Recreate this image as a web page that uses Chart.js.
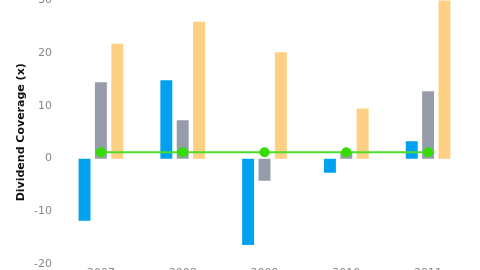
<!DOCTYPE html>
<html>
<head>
<meta charset="utf-8">
<script src="https://cdn.jsdelivr.net/npm/chart.js@4/dist/chart.umd.min.js"></script>
<style>
  html, body { margin: 0; padding: 0; background: #fff; overflow: hidden; }
  #wrap { position: absolute; left: 0; top: -14px; width: 480px; height: 310px; }
</style>
</head>
<body>
<div id="wrap"><canvas id="chart"></canvas></div>
<script>
const years = ["2007", "2008", "2009", "2010", "2011"];
const seriesBlue = [-11.8, 14.9, -16.4, -2.7, 3.3];
const seriesGray = [14.5, 7.3, -4.2, 1.1, 12.8];
const seriesOrange = [21.8, 26.0, 20.2, 9.5, 32.0];
const coverageLine = [1.2, 1.2, 1.2, 1.2, 1.2];
const yTicks = [-20, -10, 0, 10, 20, 30];

const ctx = document.getElementById("chart").getContext("2d");
const chart = new Chart(ctx, {
  type: "bar",
  data: {
    labels: years,
    datasets: [
      {
        type: "line",
        data: coverageLine,
        borderColor: "#4ddc2a",
        pointBackgroundColor: "#33dd00",
        pointBorderColor: "#33dd00",
        borderWidth: 2,
        pointRadius: 4,
        order: 0,
      },
      {data: seriesBlue, backgroundColor: "#00a2f0", order: 1},
      {data: seriesGray, backgroundColor: "#979da8", order: 1},
      {data: seriesOrange, backgroundColor: "#fed083", order: 1},
    ],
  },
  options: {
    responsive: true,
    maintainAspectRatio: false,
    animation: false,
    layout: {padding: {top: 6.4, right: 11, bottom: 12.8, left: 0}},
    plugins: {legend: {display: false}, tooltip: {enabled: false}},
    datasets: {bar: {barPercentage: 0.73, categoryPercentage: 0.6}},
    scales: {
      x: {
        grid: {display: false, drawTicks: false},
        border: {display: false},
        ticks: {color: "#888", font: {family: "DejaVu Sans", size: 11}, padding: 3},
      },
      y: {
        min: -20,
        max: 30,
        afterBuildTicks: (scale) => {
          scale.ticks = yTicks.map((v) => ({value: v}));
        },
        afterFit: (scale) => {
          scale.width = 60;
        },
        grid: {display: false, drawTicks: false},
        border: {display: false},
        ticks: {color: "#888", font: {family: "DejaVu Sans", size: 11}, padding: 8},
        title: {
          display: true,
          text: "Dividend Coverage (x)",
          color: "#111",
          padding: {top: 15, bottom: 0},
          font: {family: "DejaVu Sans", size: 11, weight: "bold"},
        },
      },
    },
  },
});
</script>
</body>
</html>
